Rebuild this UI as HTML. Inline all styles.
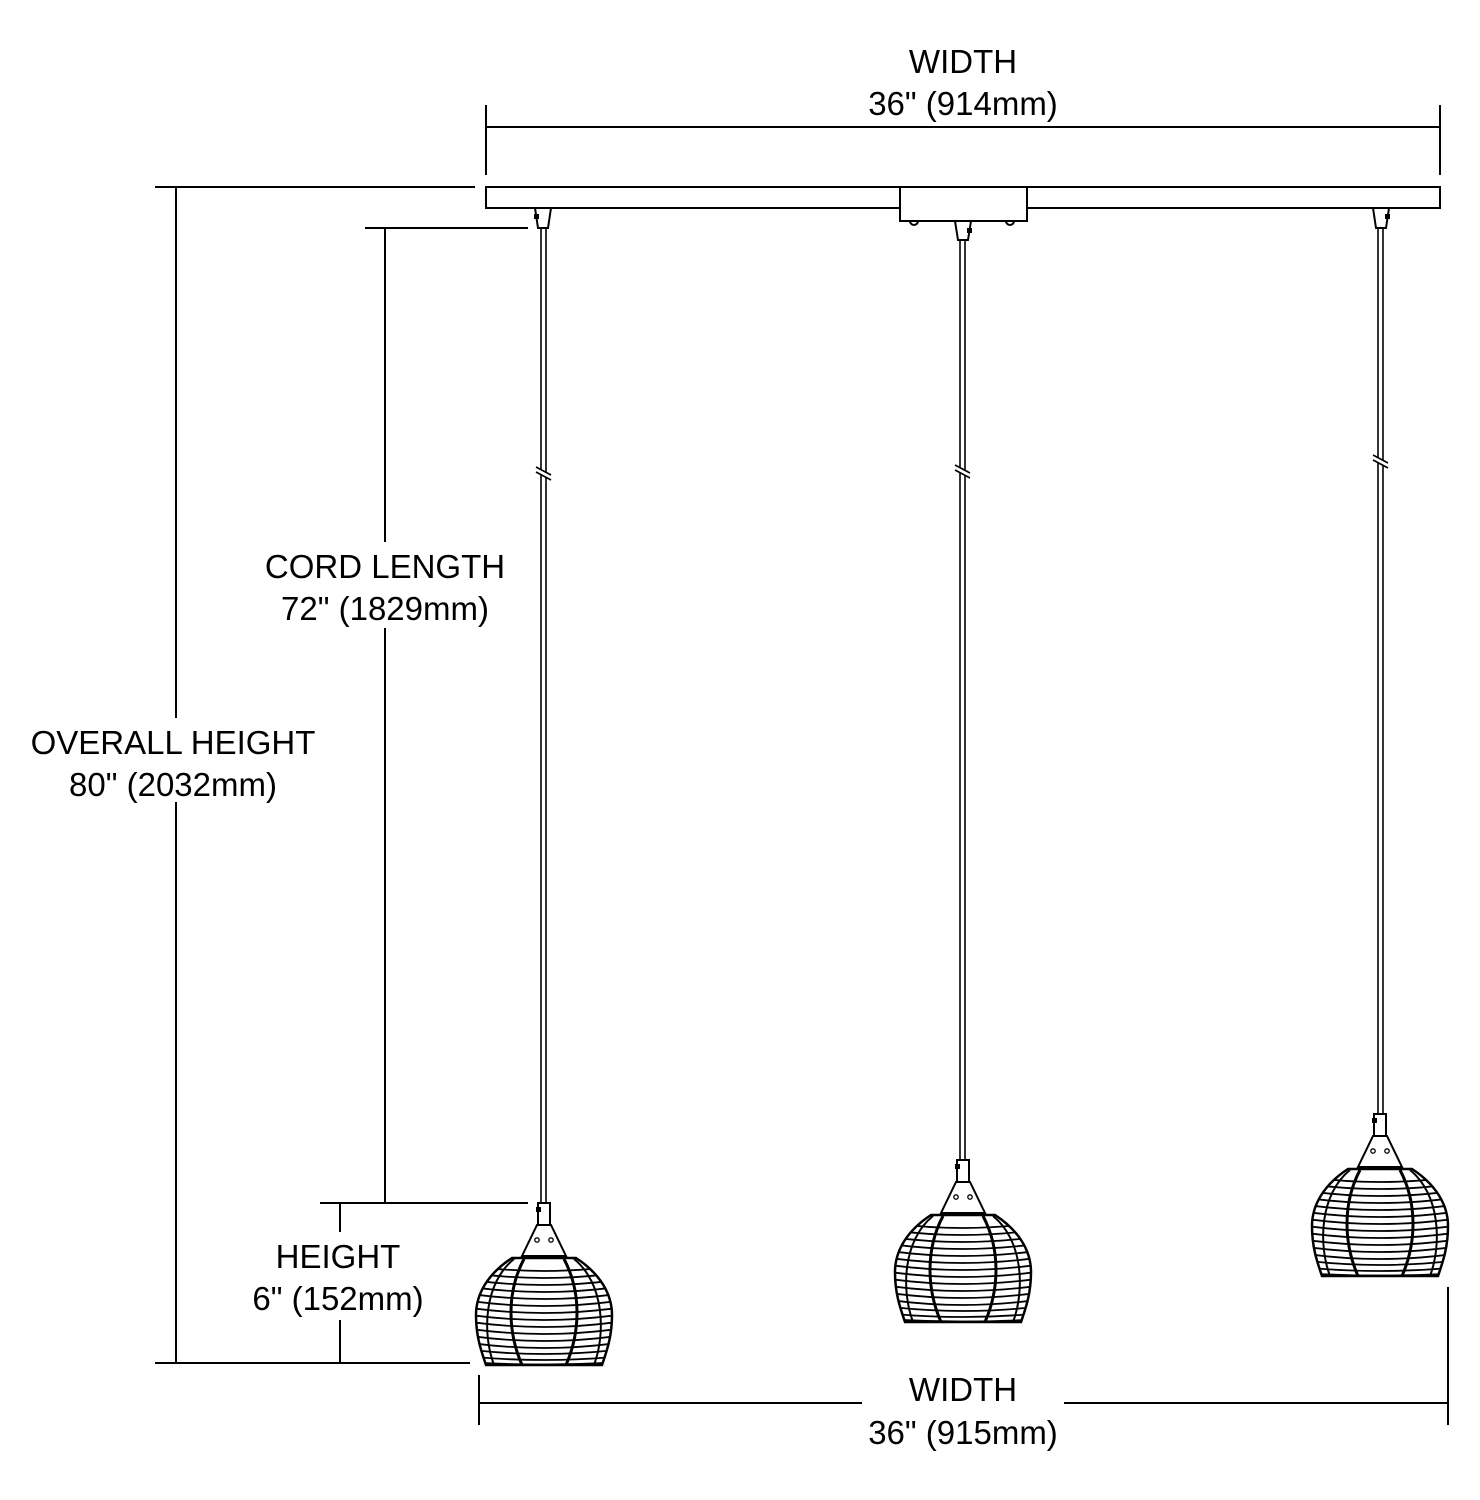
<!DOCTYPE html>
<html><head><meta charset="utf-8"><style>
html,body{margin:0;padding:0;background:#fff;}
svg{display:block;}
text{font-family:"Liberation Sans",sans-serif;font-size:33px;fill:#000;text-anchor:middle;}
</style></head><body>
<svg width="1480" height="1500" viewBox="0 0 1480 1500" xmlns="http://www.w3.org/2000/svg">
<defs>
<clipPath id="sc">
<path d="M-32,55 L32,55 C55,70 68,90 68,112 C68,135 62,150 58,162 L-58,162 C-62,150 -68,135 -68,112 C-68,90 -55,70 -32,55 Z"/>
</clipPath>
<g id="pend" stroke="#000" fill="none">
<rect x="-6" y="0" width="12" height="22" stroke-width="2" fill="#fff"/>
<rect x="-8" y="4" width="5" height="5" fill="#000" stroke="none"/>
<path d="M-7,22 L7,22 L22,53 L-22,53 Z" stroke-width="2" fill="#fff"/>
<circle cx="-7" cy="37" r="2.2" stroke-width="1.3"/>
<circle cx="7" cy="37" r="2.2" stroke-width="1.3"/>
<g clip-path="url(#sc)" stroke-width="1.8">
<path d="M-80,62 Q0,74 80,62"/><path d="M-80,69 Q0,81 80,69"/><path d="M-80,76 Q0,88 80,76"/>
<path d="M-80,83 Q0,95 80,83"/><path d="M-80,90 Q0,102 80,90"/><path d="M-80,97 Q0,109 80,97"/>
<path d="M-80,104 Q0,116 80,104"/><path d="M-80,111 Q0,123 80,111"/><path d="M-80,118 Q0,130 80,118"/>
<path d="M-80,125 Q0,137 80,125"/><path d="M-80,132 Q0,144 80,132"/><path d="M-80,139 Q0,151 80,139"/>
<path d="M-80,146 Q0,156 80,146"/><path d="M-80,153 Q0,161 80,153"/><path d="M-80,159 Q0,164 80,159"/>
<path d="M-20,56 C-38,90 -36,130 -22,162" stroke-width="3"/>
<path d="M20,56 C38,90 36,130 22,162" stroke-width="3"/>
<path d="M-30,56 C-60,80 -62,130 -50,162" stroke-width="2"/>
<path d="M30,56 C60,80 62,130 50,162" stroke-width="2"/>
</g>
<path d="M-32,55 L32,55 C55,70 68,90 68,112 C68,135 62,150 58,162 L-58,162 C-62,150 -68,135 -68,112 C-68,90 -55,70 -32,55 Z" stroke-width="2.5"/>
</g>
</defs>

<g stroke="#000" stroke-width="2" fill="none">
<line x1="486" y1="105" x2="486" y2="175"/>
<line x1="1440" y1="105" x2="1440" y2="175"/>
<line x1="486" y1="127" x2="1440" y2="127"/>
<rect x="486" y="187" width="954" height="21" fill="#fff"/>
<rect x="900" y="187" width="127" height="34" fill="#fff"/>
<path d="M910,221 a4,4 0 0 0 8,0" /><path d="M1006,221 a4,4 0 0 0 8,0"/>
<line x1="155" y1="187" x2="475" y2="187"/>
<line x1="155" y1="1363" x2="470" y2="1363"/>
<line x1="176" y1="187" x2="176" y2="718"/>
<line x1="176" y1="802" x2="176" y2="1363"/>
<line x1="365" y1="228" x2="528" y2="228"/>
<line x1="320" y1="1203" x2="528" y2="1203"/>
<line x1="385" y1="228" x2="385" y2="542"/>
<line x1="385" y1="628" x2="385" y2="1203"/>
<line x1="340" y1="1203" x2="340" y2="1232"/>
<line x1="340" y1="1320" x2="340" y2="1363"/>
<line x1="479" y1="1375" x2="479" y2="1425"/>
<line x1="1448" y1="1287" x2="1448" y2="1425"/>
<line x1="479" y1="1403" x2="862" y2="1403"/>
<line x1="1064" y1="1403" x2="1448" y2="1403"/>
</g>

<g stroke="#000" stroke-width="2" fill="#fff">
<path d="M535,208 L551,208 L548,228 L538,228 Z"/>
<path d="M955,221 L971,221 L968,240 L958,240 Z"/>
<path d="M1373,208 L1389,208 L1386,228 L1376,228 Z"/>
</g>
<g fill="#000"><rect x="534" y="214" width="5" height="5"/><rect x="967" y="228" width="5" height="5"/><rect x="1385" y="214" width="5" height="5"/></g>
<g stroke="#000" stroke-width="1.6">
<line x1="541" y1="228" x2="541" y2="1203"/><line x1="546" y1="228" x2="546" y2="1203"/>
<line x1="960" y1="240" x2="960" y2="1162"/><line x1="965" y1="240" x2="965" y2="1162"/>
<line x1="1378" y1="228" x2="1378" y2="1113"/><line x1="1383" y1="228" x2="1383" y2="1113"/>
</g>
<g stroke="#fff" stroke-width="4"><line x1="536" y1="469" x2="551" y2="477"/><line x1="955" y1="467" x2="970" y2="475"/><line x1="1373" y1="457" x2="1388" y2="465"/></g>
<g stroke="#000" stroke-width="1.6">
<line x1="536" y1="467" x2="551" y2="475"/><line x1="536" y1="472" x2="551" y2="480"/>
<line x1="955" y1="465" x2="970" y2="473"/><line x1="955" y1="470" x2="970" y2="478"/>
<line x1="1373" y1="455" x2="1388" y2="463"/><line x1="1373" y1="460" x2="1388" y2="468"/>
</g>

<use href="#pend" transform="translate(544,1203)"/>
<use href="#pend" transform="translate(963,1160)"/>
<use href="#pend" transform="translate(1380,1114)"/>

<text x="963" y="73">WIDTH</text>
<text x="963" y="115">36" (914mm)</text>
<text x="173" y="754">OVERALL HEIGHT</text>
<text x="173" y="796">80" (2032mm)</text>
<text x="385" y="578">CORD LENGTH</text>
<text x="385" y="620">72" (1829mm)</text>
<text x="338" y="1268">HEIGHT</text>
<text x="338" y="1310">6" (152mm)</text>
<text x="963" y="1401">WIDTH</text>
<text x="963" y="1444">36" (915mm)</text>
</svg>
</body></html>
